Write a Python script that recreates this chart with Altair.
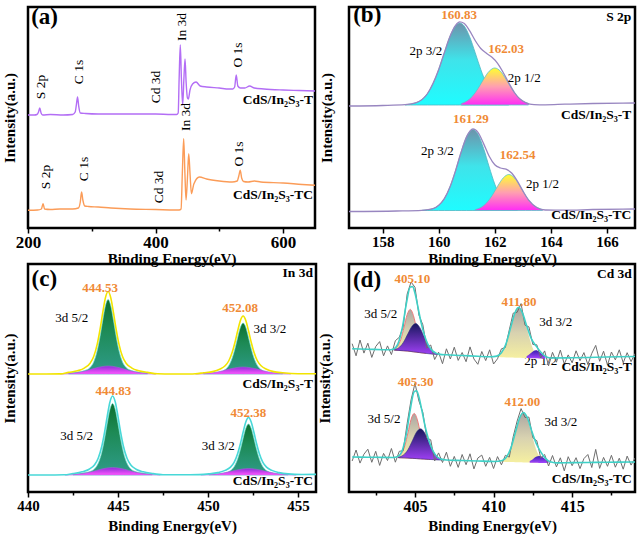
import altair as alt
import pandas as pd

FONT = "Liberation Serif"
XT = "Binding Energy(eV)"
YT = "Intensity(a.u.)"
ORANGE = "#f08a35"

# ================= (a) survey spectra =================
A_T_X = [200, 210, 214, 216.5, 218.4, 220.5, 223, 235, 255, 270, 274, 276, 277.7, 279.5, 282, 290, 310, 350, 400, 425,
         433, 435.5, 437, 438.8, 440.5, 442.5, 444.5, 446.2, 448, 450, 451.4, 454, 458, 463.5, 470, 480, 500, 515, 521, 524,
         526.5, 529, 533, 540, 547.5, 555, 570, 600, 625, 650]
A_T_Y = [113, 113, 113.5, 116, 120, 115, 113, 113.5, 113, 113.5, 116, 124, 131, 122, 115, 114.5, 114, 114, 114, 113.5,
         113.5, 115, 150, 183, 150, 123, 150, 169, 145, 130, 129, 138, 144, 146, 142, 141, 140, 139, 139, 141,
         153, 142, 140, 140, 142, 140, 139, 138, 137.5, 137]
A_TC_X = [200, 215, 221, 223.6, 226, 235, 250, 270, 279, 282, 284, 286, 289, 295, 310, 330, 360, 400, 430, 437,
          440, 442, 444.1, 446, 447.8, 450, 452, 454, 456.2, 460, 468.8, 480, 500, 520, 528, 530.5, 532.8, 535, 538, 545,
          555, 565, 600, 630, 650]
A_TC_Y = [17.7, 18, 19, 24.3, 19, 18.5, 19, 19, 20, 26, 36, 28, 22, 21.5, 21, 20, 19, 18.5, 18, 18,
          19, 55, 89.3, 55, 28, 50, 74.3, 55, 34.3, 44, 51, 49, 47, 46, 47, 52, 57.7, 50, 46.5, 46,
          47, 46, 45, 43.5, 42.7]
A_PEAKS = [("S 2p", 220, 141), ("C 1s", 280.3, 156), ("Cd 3d", 401.1, 141), ("In 3d", 442, 201), ("O 1s", 529.1, 173),
           ("S 2p", 227.9, 51), ("C 1s", 288.2, 59), ("Cd 3d", 404.7, 41), ("In 3d", 447.2, 111), ("O 1s", 530.7, 74)]
A_SAMPLES = [("CdS/In\u2082S\u2083-T", 647, 127.7), ("CdS/In\u2082S\u2083-TC", 647, 33.3)]

# ================= (b) S 2p =================
B_T_BASE = 123
B_TC_BASE = 17.5
B_T_CYAN_X = [158.8, 159.0, 159.2, 159.4, 159.6, 159.8, 160.0, 160.2, 160.4, 160.6, 160.75, 160.9, 161.1, 161.3, 161.5, 161.7, 161.9, 162.1, 162.3, 162.5]
B_T_CYAN_Y = [123.3, 123.9, 125.3, 128.5, 134.5, 144.5, 158.5, 175.3, 191.4, 202.3, 205, 202.3, 191.4, 175.3, 158.5, 144.5, 134.5, 128.5, 125.3, 123.9]
B_T_MAG_X = [160.8, 161.0, 161.2, 161.4, 161.6, 161.8, 162.0, 162.2, 162.4, 162.6, 162.8, 163.0, 163.2]
B_T_MAG_Y = [124.4, 126.9, 131.7, 139.4, 148.8, 156.8, 160, 156.8, 148.8, 139.4, 131.7, 126.9, 124.4]
B_T_ENV_X = [156.8, 158.0, 158.8, 159.2, 159.6, 160.0, 160.2, 160.4, 160.6, 160.75, 160.9, 161.1, 161.3, 161.5, 161.7, 161.9,
             162.1, 162.3, 162.5, 162.7, 162.9, 163.1, 163.4, 163.8, 164.5, 165.5, 167.0]
B_T_ENV_Y = [122, 122.5, 123.3, 125.3, 134.5, 158.5, 175.3, 191.5, 202.7, 206.1, 204.7, 197.3, 187.5, 179.5, 174.7, 170.7,
             164.7, 155.5, 144.9, 135.5, 128.9, 125.4, 123.4, 123.2, 123.8, 124.5, 125]
B_TC_CYAN_X = [159.4, 159.6, 159.8, 160.0, 160.2, 160.4, 160.6, 160.8, 161.0, 161.22, 161.4, 161.6, 161.8, 162.0, 162.2, 162.4, 162.6, 162.8]
B_TC_CYAN_Y = [17.7, 18.1, 19.4, 22.7, 29.3, 40.9, 57.3, 76, 91.5, 98.5, 93.8, 79.5, 61, 43.8, 31.2, 23.7, 19.9, 18.3]
B_TC_MAG_X = [161.3, 161.5, 161.7, 161.9, 162.1, 162.3, 162.5, 162.7, 162.9, 163.1, 163.3, 163.5, 163.7]
B_TC_MAG_Y = [18.5, 20.5, 24.9, 32.3, 41.8, 50.1, 53.5, 50.1, 41.8, 32.3, 24.9, 20.5, 18.5]
B_TC_ENV_X = [156.8, 158.5, 159.4, 159.8, 160.0, 160.2, 160.4, 160.6, 160.8, 161.0, 161.22, 161.4, 161.6, 161.8, 162.0, 162.2,
              162.4, 162.6, 162.8, 163.0, 163.2, 163.5, 163.8, 164.5, 165.5, 167.0]
B_TC_ENV_Y = [16.5, 17, 17.7, 19.4, 22.7, 29.3, 40.9, 57.3, 76, 91.6, 99.1, 95.6, 84.4, 71.7, 63.2, 60,
              58.8, 55, 47.1, 37.1, 28.2, 20.5, 18, 17.8, 18.5, 19]
B_VALUES = [("160.83", 160.73, 213.5), ("162.03", 162.4, 179.3), ("161.29", 161.15, 109), ("162.54", 162.81, 72.7)]
B_STATES = [("2p 3/2", 159.54, 176.7), ("2p 1/2", 163.05, 150), ("2p 3/2", 159.95, 76.7), ("2p 1/2", 163.7, 44.3)]
B_BOLD = [("S 2p", 166.87, 211), ("CdS/In\u2082S\u2083-T", 166.87, 112.7), ("CdS/In\u2082S\u2083-TC", 166.87, 12.7)]

# ================= (c) In 3d =================
C_T_BASE = 118
C_TC_BASE = 17
C_T_G1_X = [442.25, 442.75, 443.15, 443.45, 443.65, 443.85, 444.0, 444.15, 444.3, 444.45, 444.6, 444.75, 444.9, 445.05, 445.25, 445.45, 445.75, 446.15, 446.65]
C_T_G1_Y = [119.2, 119.9, 121.4, 124.5, 130.1, 141.8, 155.3, 171.5, 186.2, 192.5, 186.2, 171.5, 155.3, 141.8, 130.1, 124.5, 121.4, 119.9, 119.2]
C_T_E1_Y = [119.6, 121.2, 124.2, 128.8, 135.5, 148.2, 162.4, 179.1, 194.1, 200.5, 194.1, 179.1, 162.4, 148.2, 135.5, 128.8, 124.2, 121.2, 119.6]
C_T_H1_X = [441.8, 442.3, 442.8, 443.3, 443.8, 444.45, 445.1, 445.6, 446.1, 446.6, 447.1]
C_T_H1_Y = [118.1, 118.5, 119.5, 121.5, 124.2, 126, 124.2, 121.5, 119.5, 118.5, 118.1]
C_T_G2_X = [449.75, 450.25, 450.65, 450.95, 451.15, 451.35, 451.5, 451.65, 451.8, 451.95, 452.1, 452.25, 452.4, 452.55, 452.75, 452.95, 453.25, 453.65, 454.15]
C_T_G2_Y = [118.8, 119.3, 120.3, 122.4, 126.3, 134.3, 143.5, 154.6, 164.7, 169, 164.7, 154.6, 143.5, 134.3, 126.3, 122.4, 120.3, 119.3, 118.8]
C_T_E2_Y = [119.2, 120.4, 122.8, 126.2, 131, 139.9, 149.7, 161.2, 171.6, 176, 171.6, 161.2, 149.7, 139.9, 131, 126.2, 122.8, 120.4, 119.2]
C_T_H2_X = [449.3, 449.8, 450.3, 450.8, 451.3, 451.95, 452.6, 453.1, 453.6, 454.1, 454.6]
C_T_H2_Y = [118.1, 118.4, 119.3, 121.1, 123.4, 125, 123.4, 121.1, 119.3, 118.4, 118.1]
C_T_EDGE_X = [440, 441, 441.8, 447.2, 448, 449, 449.3, 455, 456]
C_T_EDGE_Y = [118, 118, 118.1, 118.2, 118, 118, 118.2, 118.2, 118.3]

C_TC_G1_X = [442.5, 443.0, 443.4, 443.7, 443.9, 444.1, 444.25, 444.4, 444.55, 444.7, 444.85, 445.0, 445.15, 445.3, 445.5, 445.7, 446.0, 446.4, 446.9]
C_TC_G1_Y = [18.1, 18.9, 20.2, 23.2, 28.7, 39.8, 52.8, 68.3, 82.5, 88.5, 82.5, 68.3, 52.8, 39.8, 28.7, 23.2, 20.2, 18.9, 18.1]
C_TC_E1_Y = [18.5, 20.2, 22.8, 27.3, 33.8, 45.8, 59.4, 75.4, 89.9, 96, 89.9, 75.4, 59.4, 45.8, 33.8, 27.3, 22.8, 20.2, 18.5]
C_TC_H1_X = [442.05, 442.55, 443.05, 443.55, 444.05, 444.7, 445.35, 445.85, 446.35, 446.85, 447.35]
C_TC_H1_Y = [17.1, 17.4, 18.4, 20.3, 22.8, 24.5, 22.8, 20.3, 18.4, 17.4, 17.1]
C_TC_G2_X = [450.05, 450.55, 450.95, 451.25, 451.45, 451.65, 451.8, 451.95, 452.1, 452.25, 452.4, 452.55, 452.7, 452.85, 453.05, 453.25, 453.55, 453.95, 454.45]
C_TC_G2_Y = [17.8, 18.3, 19.3, 21.4, 25.3, 33.3, 42.5, 53.6, 63.7, 68, 63.7, 53.6, 42.5, 33.3, 25.3, 21.4, 19.3, 18.3, 17.8]
C_TC_E2_Y = [18.1, 19.4, 21.6, 24.9, 29.7, 38.5, 48.2, 59.7, 70.1, 74.5, 70.1, 59.7, 48.2, 38.5, 29.7, 24.9, 21.6, 19.4, 18.1]
C_TC_H2_X = [449.6, 450.1, 450.6, 451.1, 451.6, 452.25, 452.9, 453.4, 453.9, 454.4, 454.9]
C_TC_H2_Y = [17.1, 17.4, 18.2, 19.9, 22, 23.5, 22, 19.9, 18.2, 17.4, 17.1]
C_TC_EDGE_X = [440, 441, 442, 447.5, 448.5, 449.5, 455.2, 456]
C_TC_EDGE_Y = [17, 17, 17.2, 17.3, 17.2, 17.4, 17.5, 17.6]
C_VALUES = [("444.53", 444.0, 204.3), ("452.08", 451.78, 184.3), ("444.83", 444.74, 101), ("452.38", 452.24, 79.3)]
C_STATES = [("3d 5/2", 442.43, 174.3), ("3d 3/2", 453.44, 162.7), ("3d 5/2", 442.7, 56), ("3d 3/2", 450.57, 46)]
C_BOLD = [("In 3d", 455.83, 219.3), ("CdS/In\u2082S\u2083-T", 455.83, 107.7), ("CdS/In\u2082S\u2083-TC", 455.83, 11)]

# ================= (d) Cd 3d =================
D_X = [401.0, 401.25, 401.5, 401.75, 402.0, 402.25, 402.5, 402.75, 403.0, 403.25, 403.5, 403.75, 404.0, 404.25, 404.5,
       404.75, 405.0, 405.25, 405.5, 405.75, 406.0, 406.25, 406.5, 406.75, 407.0, 407.25, 407.5, 407.75, 408.0, 408.25,
       408.5, 408.75, 409.0, 409.25, 409.5, 409.75, 410.0, 410.25, 410.5, 410.75, 411.0, 411.25, 411.5, 411.75, 412.0,
       412.25, 412.5, 412.75, 413.0, 413.25, 413.5, 413.75, 414.0, 414.25, 414.5, 414.75, 415.0, 415.25, 415.5, 415.75,
       416.0, 416.25, 416.5, 416.75, 417.0, 417.25, 417.5, 417.75, 418.0, 418.25, 418.5, 418.75, 419.0]
D_T_RAW = [148.3, 136.2, 152, 138.9, 148.8, 134.6, 145.5, 150.4, 136.2, 146.1, 137.4, 151.3, 154.7, 165.3, 197.9,
           210, 204.7, 176.8, 167.2, 144.1, 147, 132.5, 139.8, 128.3, 143.2, 133, 144.8, 131.6, 139.5, 130.3,
           145.1, 133, 127.7, 140.5, 131.4, 142.2, 128, 133.2, 143.2, 144.5, 162.1, 178.9, 179.7, 188.4, 166.8,
           165.1, 147.5, 147.2, 134, 141.1, 126.2, 139.7, 129.8, 141.9, 128, 137.1, 129.2, 141.2, 131.3, 139.4,
           127.5, 138.6, 146.6, 130.7, 140.8, 126.9, 140, 132.1, 142.2, 129.2, 139.3, 130.4, 138.5]
D_TC_RAW = [31, 42, 28.9, 37.8, 42.8, 29.7, 40.7, 26.6, 38.6, 31.5, 43.5, 29.8, 40.7, 41.3, 68.6,
            92.2, 108.6, 91, 79.6, 53.9, 52.2, 31.1, 39.1, 29.5, 39.8, 25.7, 35.6, 24.6, 37.5, 27.3,
            38.2, 23.1, 34, 36.9, 25.7, 34.6, 23.5, 35.4, 27.2, 36.7, 34.9, 55.4, 71, 83.4, 74.5,
            74.9, 54.2, 51.3, 34.2, 37.5, 26, 36.5, 25.1, 34.2, 21.2, 35.3, 26.3, 34.3, 23.4, 33.4,
            37.5, 24.5, 42.6, 23.6, 34.6, 25.7, 36.7, 24.8, 33.8, 22.8, 35.9, 26.9, 34]
D_T_S1_X = [403.7, 403.9, 404.1, 404.3, 404.5, 404.7, 404.9, 405.1, 405.3, 405.5, 405.7]
D_T_S1_Y = [142.9, 145.7, 152.7, 164.6, 177.3, 182.6, 176.5, 163.2, 150.7, 143.1, 139.8]
D_T_S1_B = [141.8, 141.6, 141.4, 141.2, 141, 140.6, 140.2, 139.8, 139.4, 139, 138.7]
D_T_B1_X = [403.65, 403.95, 404.25, 404.55, 404.8, 405.05, 405.3, 405.55, 405.85, 406.15, 406.45]
D_T_B1_Y = [142.5, 144.1, 149.3, 158.3, 165.6, 168.5, 164.6, 156.3, 146.3, 140.3, 138.1]
D_T_B1_B = [141.9, 141.6, 141.3, 140.9, 140.4, 139.9, 139.4, 138.9, 138.3, 137.8, 137.5]
D_T_Y2_X = [410.2, 410.5, 410.8, 411.1, 411.35, 411.6, 411.85, 412.1, 412.4, 412.7, 413.0]
D_T_Y2_Y = [135.9, 139.25, 148.6, 165.15, 178.8, 184.7, 178.6, 164.65, 147.8, 137.65, 134.5]
D_T_Y2_B = [134.9, 134.75, 134.6, 134.45, 134.3, 134.2, 134.1, 133.95, 133.8, 133.65, 133.5]
D_T_P2_X = [412.1, 412.3, 412.5, 412.7, 412.9, 413.1, 413.3]
D_T_P2_Y = [135.75, 138.05, 140.55, 141.65, 140.35, 137.65, 135.2]
D_T_P2_B = [133.95, 133.85, 133.75, 133.65, 133.55, 133.45, 133.4]
D_T_ENV_X = [401, 402, 403, 403.3, 403.6, 403.9, 404.2, 404.45, 404.7, 404.85, 405.0, 405.2, 405.4, 405.6, 405.8, 406.0,
             406.3, 406.6, 407, 408, 409, 409.8, 410.2, 410.5, 410.8, 411.1, 411.35, 411.6, 411.85, 412.1, 412.4, 412.7,
             413.0, 413.3, 413.6, 415, 416.5, 418, 419]
D_T_ENV_Y = [143.3, 142.8, 142.3, 142.2, 142.8, 147.7, 164.9, 188.4, 205, 205.4, 198.7, 183.8, 168.6, 156.7, 148.4, 143,
             139.1, 137.6, 137.2, 136.5, 135.7, 135.2, 135.9, 139.25, 148.6, 165.15, 178.8, 184.7, 178.6, 166.45, 153.3, 146.15,
             140, 135.6, 134, 134.2, 134.7, 135.2, 135.5]
D_TC_S1_X = [403.95, 404.15, 404.35, 404.55, 404.75, 404.95, 405.15, 405.35, 405.55, 405.75, 405.95]
D_TC_S1_Y = [35.5, 38.6, 46.2, 59.05, 72.65, 78.55, 72.25, 58.25, 45.05, 37.15, 33.75]
D_TC_S1_B = [34.3, 34.2, 34.1, 33.95, 33.75, 33.55, 33.35, 33.15, 32.95, 32.75, 32.55]
D_TC_B1_X = [403.95, 404.25, 404.55, 404.85, 405.1, 405.35, 405.6, 405.85, 406.15, 406.45, 406.75]
D_TC_B1_Y = [34.9, 36.85, 42.25, 51.85, 59.9, 63.15, 59.4, 50.85, 40.65, 34.75, 32.55]
D_TC_B1_B = [34.3, 34.15, 33.95, 33.65, 33.4, 33.15, 32.9, 32.65, 32.35, 32.05, 31.95]
D_TC_Y2_X = [410.5, 410.8, 411.1, 411.4, 411.65, 411.9, 412.15, 412.4, 412.7, 413.0, 413.3]
D_TC_Y2_Y = [31.25, 34.6, 43.85, 60.2, 73.8, 79.55, 73.55, 59.7, 43.05, 33.5, 30.05]
D_TC_Y2_B = [30.25, 30.1, 29.95, 29.8, 29.7, 29.55, 29.45, 29.3, 29.15, 29, 29.05]
D_TC_P2_X = [412.3, 412.5, 412.7, 412.9, 413.1, 413.3, 413.5]
D_TC_P2_Y = [30.95, 32.85, 35.15, 36.05, 35, 32.65, 30.7]
D_TC_P2_B = [29.35, 29.25, 29.15, 29.05, 29, 29.05, 29.1]
D_TC_ENV_X = [401, 402, 403, 403.6, 403.9, 404.2, 404.45, 404.7, 404.95, 405.1, 405.25, 405.45, 405.65, 405.85, 406.05,
              406.3, 406.6, 407.0, 408, 409, 410.1, 410.5, 410.8, 411.1, 411.4, 411.65, 411.9, 412.15, 412.4, 412.7,
              413.0, 413.3, 413.6, 414.0, 415, 416.5, 418, 419]
D_TC_ENV_Y = [35, 34.8, 34.6, 34.55, 35.5, 42.05, 58.05, 82.5, 100.35, 101.3, 95.05, 80.55, 65.35, 53.15, 44.25,
              37.1, 33.25, 31.95, 31.5, 31, 30.55, 31.25, 34.6, 43.85, 60.2, 73.8, 79.55, 74.25, 62.2, 49.05,
              40.2, 33.65, 30.2, 29.15, 29.35, 29.6, 29.85, 30]
D_VALUES = [("405.10", 404.83, 213.3), ("411.80", 411.62, 190), ("405.30", 405.04, 110), ("412.00", 411.84, 90)]
D_STATES = [("3d 5/2", 402.82, 178.3), ("3d 3/2", 413.96, 170), ("3d 5/2", 403.03, 73.3), ("3d 3/2", 414.28, 70)]
D_HIDDEN = [("2p 1/2", 413.0, 131)]
D_BOLD = [("Cd 3d", 418.8, 218.3), ("CdS/In\u2082S\u2083-T", 418.8, 125), ("CdS/In\u2082S\u2083-TC", 418.8, 13.3)]


# ---------------- helpers ----------------
def grad(stops):
    return alt.Gradient(gradient="linear", x1=0, x2=0, y1=1, y2=0,
                        stops=[alt.GradientStop(offset=o, color=c) for o, c in stops])


class Panel:
    def __init__(self, w, h, xdom, xvals, major, lsize, ypad, title_y):
        self.w, self.h = w, h
        self.layers = []
        xax = alt.Axis(values=xvals, title=XT, grid=False, domain=False,
                       labelExpr="(" + major + ") ? datum.label : ''",
                       tickSize={"condition": {"test": major, "value": 5}, "value": 3},
                       tickWidth=1.5, tickColor="black", labelFont=FONT, labelFontSize=lsize,
                       labelFontWeight="bold", labelColor="black", labelPadding=1, labelFlush=False,
                       labelOverlap=False, titleFont=FONT, titleFontSize=15, titleFontWeight="bold",
                       titleColor="black", titleY=title_y, titleBaseline="middle")
        yax = alt.Axis(title=YT, labels=False, ticks=False, domain=False, grid=False,
                       titleFont=FONT, titleFontSize=15, titleFontWeight="bold", titleColor="black",
                       titlePadding=ypad)
        self.x = alt.X("x:Q", scale=alt.Scale(domain=xdom, nice=False, zero=False), axis=xax)
        self.y = alt.Y("y:Q", scale=alt.Scale(domain=[0, h], nice=False, zero=False), axis=yax)

    def line(self, xs, ys, color, width=1.2, interp="monotone"):
        df = pd.DataFrame({"x": xs, "y": ys})
        self.layers.append(alt.Chart(df).mark_line(color=color, strokeWidth=width, interpolate=interp, clip=True)
                           .encode(x=self.x, y=self.y))

    def area(self, xs, ys, base, fill, stroke=None, sw=0.8):
        b = base if isinstance(base, list) else [base] * len(xs)
        df = pd.DataFrame({"x": xs, "y": ys, "y2": b})
        kw = dict(color=fill, interpolate="monotone", clip=True)
        if stroke:
            kw.update(stroke=stroke, strokeWidth=sw)
        self.layers.append(alt.Chart(df).mark_area(**kw).encode(x=self.x, y=self.y, y2="y2:Q"))

    def text(self, rows, **mark):
        df = pd.DataFrame(rows, columns=["label", "x", "y"])
        self.layers.append(alt.Chart(df).mark_text(font=FONT, **mark)
                           .encode(x=self.x, y=self.y, text="label:N"))

    def tag(self, s, x, y):
        self.text([(s, x, y)], fontSize=23, fontWeight="bold", align="left", baseline="middle", color="black")

    def chart(self):
        return alt.layer(*self.layers).properties(width=self.w, height=self.h)


CYAN = grad([(0, "#1ffcff"), (0.55, "#3fe3ea"), (1, "#6d93ab")])
MAGYEL = grad([(0, "#ff2cf5"), (0.5, "#ff9fb0"), (1, "#ffff30")])
GREEN = grad([(0, "#2f9c8a"), (0.6, "#1d8a55"), (1, "#0d6f2f")])
HUMP = grad([(0, "#ff55ff"), (1, "#8e2fd8")])
GRAYYEL = grad([(0, "#f6f0a0"), (0.5, "#d8d2b0"), (1, "#aaa5a2")])
BLUEVIO = grad([(0, "#a040f5"), (1, "#18185e")])
SMALLP = grad([(0, "#a545ff"), (1, "#3a20b0")])

# ---------------- (a) ----------------
pa = Panel(287, 221, [200, 650], [200, 300, 400, 500, 600], "datum.value % 200 == 0", 17, 11, 30)
pa.line(A_T_X, A_T_Y, "#b36ef5", 1.4)
pa.line(A_TC_X, A_TC_Y, "#fb9c58", 1.4)
pa.text(A_PEAKS, fontSize=13.5, angle=270, align="center", baseline="middle", color="black")
pa.text(A_SAMPLES, fontSize=13.5, fontWeight="bold", align="right", baseline="middle", color="black")
pa.tag("(a)", 205, 211)

# ---------------- (b) ----------------
pb = Panel(286, 221, [156.8, 167], [158, 160, 162, 164, 166], "true", 15, 15, 30)
pb.area(B_T_CYAN_X, B_T_CYAN_Y, B_T_BASE, CYAN, "#4cb8c4")
pb.area(B_T_MAG_X, B_T_MAG_Y, B_T_BASE, MAGYEL, "#5cc4c8")
pb.line(B_T_ENV_X, B_T_ENV_Y, "#9886c0", 1.3)
pb.area(B_TC_CYAN_X, B_TC_CYAN_Y, B_TC_BASE, CYAN, "#4cb8c4")
pb.area(B_TC_MAG_X, B_TC_MAG_Y, B_TC_BASE, MAGYEL, "#5cc4c8")
pb.line(B_TC_ENV_X, B_TC_ENV_Y, "#9886c0", 1.3)
pb.text(B_VALUES, fontSize=13, fontWeight="bold", align="center", baseline="middle", color=ORANGE)
pb.text(B_STATES, fontSize=13, align="center", baseline="middle", color="black")
pb.text(B_BOLD, fontSize=13.5, fontWeight="bold", align="right", baseline="middle", color="black")
pb.tag("(b)", 156.95, 213)

# ---------------- (c) ----------------
pc = Panel(288, 228, [440, 456], [440, 442.5, 445, 447.5, 450, 452.5, 455], "datum.value % 5 == 0", 15, 11, 33)
for gx, gy, ey, hx, hy, base, env_col in [
    (C_T_G1_X, C_T_G1_Y, C_T_E1_Y, C_T_H1_X, C_T_H1_Y, C_T_BASE, "#f2e400"),
    (C_T_G2_X, C_T_G2_Y, C_T_E2_Y, C_T_H2_X, C_T_H2_Y, C_T_BASE, "#f2e400"),
    (C_TC_G1_X, C_TC_G1_Y, C_TC_E1_Y, C_TC_H1_X, C_TC_H1_Y, C_TC_BASE, "#48d8d8"),
    (C_TC_G2_X, C_TC_G2_Y, C_TC_E2_Y, C_TC_H2_X, C_TC_H2_Y, C_TC_BASE, "#48d8d8"),
]:
    pc.area(gx, gy, base, GREEN, "#6fe0d0", 0.7)
    pc.area(hx, hy, base, HUMP, "#b060e0", 0.5)
pc.line(C_T_EDGE_X[:3] + C_T_G1_X + C_T_EDGE_X[3:7] + C_T_G2_X + C_T_EDGE_X[7:],
        C_T_EDGE_Y[:3] + C_T_E1_Y + C_T_EDGE_Y[3:7] + C_T_E2_Y + C_T_EDGE_Y[7:], "#f2e400", 1.6)
pc.line(C_TC_EDGE_X[:3] + C_TC_G1_X + C_TC_EDGE_X[3:6] + C_TC_G2_X + C_TC_EDGE_X[6:],
        C_TC_EDGE_Y[:3] + C_TC_E1_Y + C_TC_EDGE_Y[3:6] + C_TC_E2_Y + C_TC_EDGE_Y[6:], "#48d8d8", 1.6)
pc.text(C_VALUES, fontSize=13, fontWeight="bold", align="center", baseline="middle", color=ORANGE)
pc.text(C_STATES, fontSize=13, align="center", baseline="middle", color="black")
pc.text(C_BOLD, fontSize=13.5, fontWeight="bold", align="right", baseline="middle", color="black")
pc.tag("(c)", 440.2, 212.7)

# ---------------- (d) ----------------
pd_ = Panel(286, 228, [400.8, 419], [402.5, 405, 407.5, 410, 412.5, 415, 417.5], "datum.value % 5 == 0", 16, 17, 33)
pd_.text(D_HIDDEN, fontSize=13, align="center", baseline="middle", color="black")
for (sx, sy, sb, bx, by, bb, yx, yy, yb, px, py, pb_) in [
    (D_T_S1_X, D_T_S1_Y, D_T_S1_B, D_T_B1_X, D_T_B1_Y, D_T_B1_B, D_T_Y2_X, D_T_Y2_Y, D_T_Y2_B, D_T_P2_X, D_T_P2_Y, D_T_P2_B),
    (D_TC_S1_X, D_TC_S1_Y, D_TC_S1_B, D_TC_B1_X, D_TC_B1_Y, D_TC_B1_B, D_TC_Y2_X, D_TC_Y2_Y, D_TC_Y2_B, D_TC_P2_X, D_TC_P2_Y, D_TC_P2_B),
]:
    pd_.area(sx, sy, sb, GRAYYEL, "#f07a7a", 1.0)
    pd_.area(bx, by, bb, BLUEVIO, "#2a2a7a", 0.6)
    pd_.area(yx, yy, yb, GRAYYEL)
    pd_.area(px, py, pb_, SMALLP)
pd_.line(D_X, D_T_RAW, "#6e6e6e", 1.0, "linear")
pd_.line(D_X, D_TC_RAW, "#6e6e6e", 1.0, "linear")
pd_.line(D_T_ENV_X, D_T_ENV_Y, "#3fd0c6", 1.6)
pd_.line(D_TC_ENV_X, D_TC_ENV_Y, "#3fd0c6", 1.6)
pd_.text(D_VALUES, fontSize=13, fontWeight="bold", align="center", baseline="middle", color=ORANGE)
pd_.text(D_STATES, fontSize=13, align="center", baseline="middle", color="black")
pd_.text(D_BOLD, fontSize=13.5, fontWeight="bold", align="right", baseline="middle", color="black")
pd_.tag("(d)", 401.05, 211.7)

chart = (alt.concat(pa.chart(), pb.chart(), pc.chart(), pd_.chart(), columns=2, bounds="flush",
                    spacing={"row": 36, "column": 33})
         .properties(padding={"left": 0, "top": 2, "right": 0, "bottom": 0}, background="white")
         .configure_view(stroke="black", strokeWidth=2.5))

chart.save("out.html", embed_options={"renderer": "svg", "actions": False})
